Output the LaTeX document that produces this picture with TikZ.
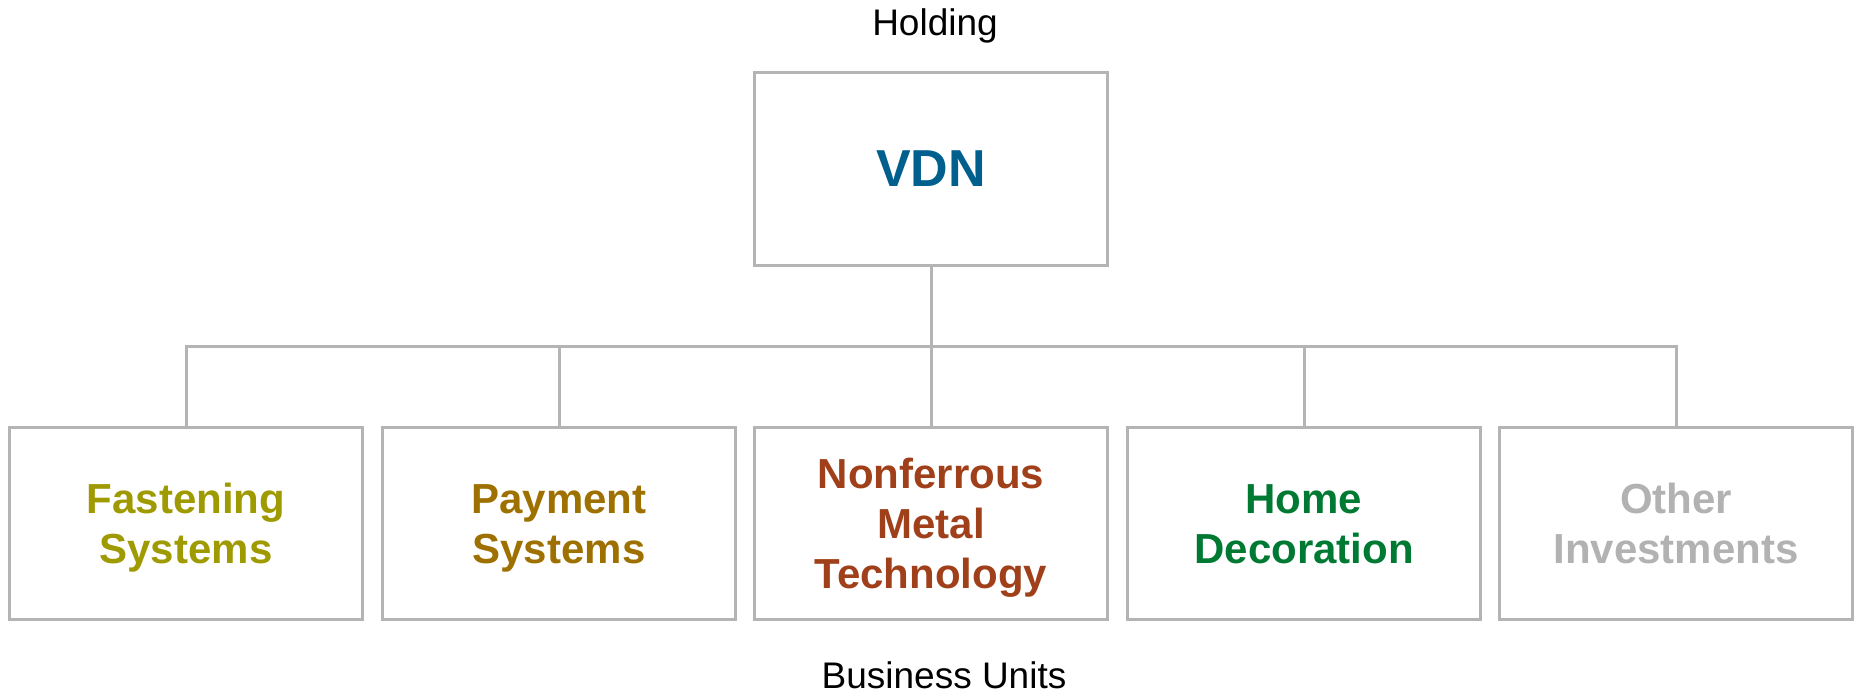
\documentclass[tikz,border=0pt]{standalone}
\usepackage{fontspec}
\setmainfont{Liberation Sans}
\definecolor{linegray}{RGB}{180,180,180}
\definecolor{vdnblue}{RGB}{0,95,140}
\definecolor{fastcol}{RGB}{158,154,0}
\definecolor{paycol}{RGB}{158,112,0}
\definecolor{metalcol}{RGB}{160,64,26}
\definecolor{homecol}{RGB}{0,122,51}
\definecolor{othercol}{RGB}{178,178,178}
\newcommand{\ls}{\rule{0pt}{40pt}\rule[-9pt]{0pt}{9pt}}
\tikzset{
  unitbox/.style={draw=linegray, line width=3pt, minimum width=353pt, minimum height=192pt,
    align=center, inner sep=0pt, font=\fontsize{42}{50}\selectfont\bfseries},
  conn/.style={draw=linegray, line width=3pt},
  caption/.style={font=\fontsize{37}{40}\selectfont, anchor=base, inner sep=0pt}
}
\begin{document}
\begin{tikzpicture}[x=1pt,y=-1pt]
\useasboundingbox (0,0) rectangle (1860,697);
\node[caption] (hold) at (935,35) {Holding};
\node[unitbox, minimum height=193pt, font=\fontsize{52}{60}\selectfont\bfseries, text=vdnblue] (vdn) at (931,168.5) {VDN};
\node[unitbox, text=fastcol] (fast) at (186,523) {\ls Fastening\\\ls Systems};
\node[unitbox, text=paycol] (pay) at (559,523) {\ls Payment\\\ls Systems};
\node[unitbox, text=metalcol] (metal) at (931,523) {\ls Nonferrous\\\ls Metal\\\ls Technology};
\node[unitbox, text=homecol] (home) at (1304,523) {\ls Home\\\ls Decoration};
\node[unitbox, text=othercol] (other) at (1676,523) {\ls Other\\\ls Investments};
\node[caption] (bu) at (944,688) {Business Units};
\coordinate (hub) at (931,346);
\draw[conn] (vdn.south) -- (metal.north);
\draw[conn] (fast.north) -- (fast.north |- hub) -- (other.north |- hub) -- (other.north);
\draw[conn] (pay.north) -- (pay.north |- hub);
\draw[conn] (home.north) -- (home.north |- hub);
\end{tikzpicture}
\end{document}
